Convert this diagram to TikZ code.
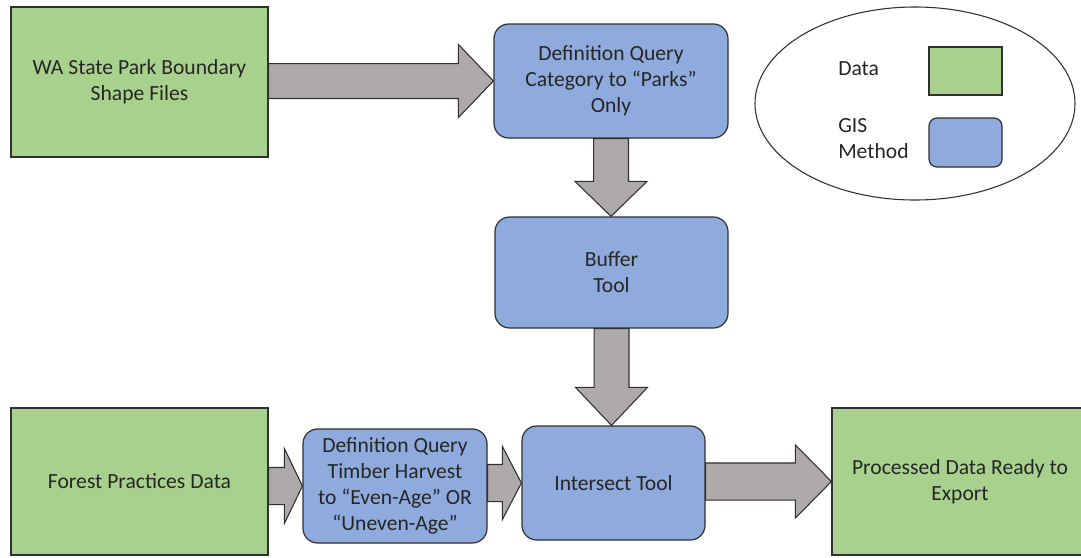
\documentclass[tikz,border=0pt]{standalone}
\usepackage{fontspec}
\setmainfont{Carlito}
\usetikzlibrary{calc,shapes.geometric}
\definecolor{datagreen}{HTML}{A9D18E}
\definecolor{gisblue}{HTML}{8FAADC}
\definecolor{arrowgray}{HTML}{AEAAAA}
\definecolor{txt}{HTML}{262626}
\definecolor{edge}{HTML}{303030}
\tikzset{
  databox/.style={draw=edge, line width=0.9pt, fill=datagreen, rectangle, inner sep=0pt, align=center, text=txt, font=\fontsize{16.2}{19.5}\selectfont},
  gisbox/.style={draw=edge, line width=0.9pt, fill=gisblue, rectangle, rounded corners=11pt, inner sep=0pt, align=center, text=txt, font=\fontsize{16.2}{19.5}\selectfont},
  blockarrow/.style={draw=edge, line width=0.8pt, fill=arrowgray, line join=miter},
  legendtext/.style={text=txt, font=\fontsize{16.2}{19.5}\selectfont, inner sep=0pt, anchor=west, align=left}
}
% horizontal block arrow: from, to, half shaft, half head, head length
\newcommand\harr[5]{%
  \draw[blockarrow] let \p1=(#1.east), \p2=(#2.west) in
   (\x1,\y2+#3) -- (\x2-#5,\y2+#3) -- (\x2-#5,\y2+#4) -- (\x2,\y2) --
   (\x2-#5,\y2-#4) -- (\x2-#5,\y2-#3) -- (\x1,\y2-#3) -- cycle;}
% vertical block arrow (downwards)
\newcommand\varr[5]{%
  \draw[blockarrow] let \p1=(#1.south), \p2=(#2.north) in
   (\x1-#3,\y1) -- (\x1-#3,\y2+#5) -- (\x1-#4,\y2+#5) -- (\x1,\y2) --
   (\x1+#4,\y2+#5) -- (\x1+#3,\y2+#5) -- (\x1+#3,\y1) -- cycle;}
\begin{document}
\begin{tikzpicture}[x=0.75pt,y=-0.75pt]
\useasboundingbox (0,0) rectangle (1081,557);
\fill[white] (0,0) rectangle (1081,557);

% boxes
\node[databox, minimum width=192.75pt, minimum height=112.5pt] (wa) at (139.5,82) {WA State Park Boundary\\Shape Files};
\node[gisbox, minimum width=175.5pt, minimum height=85.5pt] (dq1) at (611,81) {Definition Query\\Category to “Parks”\\Only};
\node[gisbox, minimum width=174.75pt, minimum height=83.25pt] (buf) at (611.5,272.5) {Buffer\\Tool};
\node[databox, minimum width=192.75pt, minimum height=110.25pt] (forest) at (139.5,481.5) {Forest Practices Data};
\node[gisbox, minimum width=138pt, minimum height=85.5pt] (dq2) at (395,486) {Definition Query\\Timber Harvest\\to “Even-Age” OR\\“Uneven-Age”};
\node[gisbox, minimum width=137.25pt, minimum height=85.5pt] (inter) at (613.5,483) {Intersect Tool};
\node[databox, minimum width=192pt, minimum height=110.25pt] (proc) at (960,481.5) {Processed Data Ready to\\Export};

% legend
\node[draw=edge, line width=0.8pt, ellipse, minimum width=240pt, minimum height=144.75pt, inner sep=0pt] (legend) at (915,103.5) {};
\node[databox, minimum width=54.75pt, minimum height=36pt] (legdata) at (965.5,71) {};
\node[gisbox, rounded corners=6pt, minimum width=54.75pt, minimum height=36.75pt] (leggis) at (965.5,142.5) {};
\node[legendtext] (ldata) at (838,69) {Data};
\node[legendtext] (lgis) at (838,139) {GIS\\Method};

% arrows
\harr{wa}{dq1}{13.1pt}{27.4pt}{26.25pt}
\varr{dq1}{buf}{13.1pt}{27pt}{26.25pt}
\varr{buf}{inter}{13.1pt}{27pt}{28.5pt}
\harr{forest}{dq2}{13.9pt}{28.1pt}{13.5pt}
\harr{dq2}{inter}{13.9pt}{27.4pt}{14.25pt}
\harr{inter}{proc}{13.9pt}{27.4pt}{27pt}
\end{tikzpicture}
\end{document}
